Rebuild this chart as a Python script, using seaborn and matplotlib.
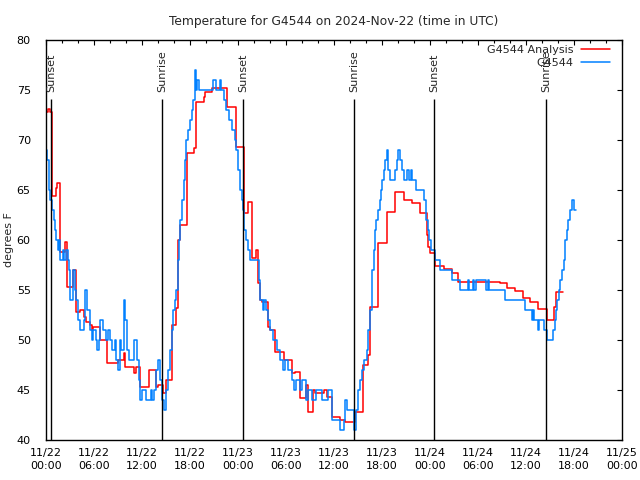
import numpy as np
import pandas as pd
import matplotlib
matplotlib.use('Agg')
import matplotlib.pyplot as plt
import matplotlib.dates as mdates
import seaborn as sns

# ── data (hours after 2024-11-22 00:00 UTC, deg F) ──────────
analysis_hours = [0.0, 0.25, 0.5, 0.7, 1.25, 1.4, 1.75, 2.4, 2.6, 3.4, 3.75, 4.25, 4.7, 5.0,
                  5.5, 5.7, 5.9, 6.75, 7.6, 9.0, 9.7, 9.9, 11.0, 11.3, 11.75, 12.9, 13.7, 14.0,
                  14.6, 15.0, 15.7, 16.25, 16.5, 16.75, 17.6, 18.5, 18.8, 19.7, 19.9, 20.7,
                  22.6, 23.8, 24.7, 25.3, 25.7, 26.25, 26.5, 26.75, 27.0, 27.7, 28.0, 28.6,
                  29.7, 30.7, 31.1, 31.75, 32.5, 32.8, 33.4, 33.6, 34.7, 35.1, 35.7, 36.75,
                  37.4, 38.6, 39.6, 40.3, 40.5, 41.5, 42.6, 43.6, 44.7, 45.7, 46.7, 47.6,
                  47.8, 48.0, 48.6, 49.7, 50.7, 51.5, 56.75, 57.6, 58.6, 59.6, 60.5, 61.5,
                  62.6, 63.5, 63.7, 64.6]
analysis_temps = [72.8, 73.1, 72.8, 64.4, 65.2, 65.7, 58.8, 59.8, 55.3, 57.0, 52.8, 53.0, 52.3, 51.8,
                  51.5, 51.0, 51.3, 50.0, 47.7, 48.0, 48.7, 47.3, 46.7, 47.3, 45.3, 47.0, 45.3, 45.5,
                  44.7, 46.0, 51.5, 53.2, 60.0, 61.5, 68.7, 69.2, 73.8, 74.3, 74.8, 75.2,
                  73.3, 69.3, 62.7, 63.8, 58.2, 59.0, 55.7, 54.0, 53.8, 51.3, 51.0, 48.8,
                  48.0, 46.7, 46.8, 44.2, 45.5, 42.8, 45.0, 44.7, 45.0, 44.3, 42.3, 42.0,
                  41.8, 42.8, 47.5, 48.5, 53.3, 59.7, 62.8, 64.8, 64.0, 63.7, 62.7, 60.5,
                  59.3, 58.7, 57.4, 57.1, 56.7, 55.8, 55.7, 55.2, 54.9, 54.2, 53.8, 53.1,
                  52.0, 53.3, 54.8, 54.8]

obs_hours = [0.0, 0.15, 0.35, 0.5, 0.8, 1.0, 1.15, 1.3, 1.45, 1.6, 1.8, 2.1, 2.3, 2.5, 2.7, 2.9,
             3.05, 3.4, 3.6, 3.8, 4.0, 4.3, 4.7, 4.85, 5.1, 5.5, 5.7, 5.9, 6.2, 6.4, 6.6, 6.8,
             7.1, 7.5, 7.8, 8.0, 8.3, 8.6, 8.8, 9.0, 9.2, 9.4, 9.7, 9.9, 10.1, 10.4, 11.0, 11.4,
             11.6, 11.8, 12.0, 12.5, 13.1, 13.3, 13.5, 13.8, 14.0, 14.2, 14.5, 14.7, 15.0, 15.3,
             15.5, 15.7, 15.9, 16.1, 16.3, 16.45, 16.6, 16.8, 17.0, 17.2, 17.4, 17.55, 17.8, 18.0,
             18.2, 18.4, 18.6, 18.8, 18.9, 19.1, 20.9, 21.3, 21.7, 21.9, 22.2, 22.5, 22.9, 23.3,
             23.6, 23.8, 24.0, 24.2, 24.45, 24.6, 24.75, 25.0, 25.2, 25.5, 26.6, 26.7, 27.1, 27.3,
             27.5, 27.7, 28.0, 28.4, 28.9, 29.2, 29.6, 29.9, 30.3, 30.7, 31.0, 31.3, 31.8, 32.0,
             32.5, 32.8, 33.2, 33.8, 34.5, 35.2, 35.7, 36.7, 37.2, 37.4, 37.6, 38.5, 38.8, 39.0,
             39.2, 39.5, 39.8, 40.1, 40.3, 40.5, 40.7, 40.8, 41.0, 41.1, 41.3, 41.5, 41.75, 41.9,
             42.0, 42.2, 42.4, 42.6, 42.75, 43.0, 43.6, 43.9, 44.05, 44.2, 44.5, 44.8, 45.1, 45.4,
             45.6, 45.8, 46.2, 47.2, 47.5, 47.7, 47.9, 48.1, 48.6, 49.25, 50.7, 51.75, 52.8, 52.9,
             53.4, 53.5, 53.8, 55.0, 55.3, 55.4, 57.4, 59.9, 60.7, 60.9, 61.0, 61.5, 61.6, 62.2,
             62.6, 63.4, 63.6, 63.75, 63.9, 64.1, 64.25, 64.5, 64.7, 64.9, 65.1, 65.3, 65.5, 65.7,
             66.0, 66.2]
obs_temps = [69, 68, 65, 64, 63, 62, 61, 60, 59, 60, 58, 59, 58, 59, 58, 57,
             54, 57, 55, 54, 52, 51, 52, 55, 53, 51, 50, 51, 50, 49, 50, 52,
             51, 50, 51, 50, 49, 50, 48, 47, 50, 49, 54, 52, 49, 48, 50, 48,
             46, 44, 45, 44, 45, 44, 45, 47, 48, 46, 44, 43, 45, 47,
             49, 51, 53, 54, 55, 58, 60, 62, 64, 66, 68, 70, 71, 72,
             73, 74, 77, 75, 76, 75, 76, 75, 76, 75, 74, 73, 72, 71,
             70, 69, 67, 65, 64, 63, 61, 60, 59, 58, 56, 54, 53, 54,
             53, 52, 51, 50, 49, 48, 47, 48, 47, 46, 45, 46, 45, 46,
             44, 45, 44, 45, 44, 45, 42, 41, 42, 44, 43, 41, 43, 45,
             46, 47, 48, 49, 51, 53, 55, 57, 59, 61, 62, 63, 64, 65,
             66, 67, 68, 69, 67, 66, 67, 68, 69, 68, 67, 66, 67, 66,
             67, 66, 65, 64, 62, 61, 60, 59, 58, 57, 56, 55, 56, 55,
             56, 55, 56, 55, 56, 55, 54, 53, 52, 53, 52, 51, 52, 51,
             50, 51, 52, 53, 54, 55, 56, 57, 58, 60, 61, 62, 63, 64,
             63, 63]

sun_hours = [0.6, 14.5, 24.6, 38.5, 48.5, 62.5]
sun_labels = ['Sunset', 'Sunrise', 'Sunset', 'Sunrise', 'Sunset', 'Sunrise']

start = pd.Timestamp('2024-11-22 00:00')
df_an = pd.DataFrame({'time': start + pd.to_timedelta(analysis_hours, unit='h'),
                      'temp': analysis_temps})
df_obs = pd.DataFrame({'time': start + pd.to_timedelta(obs_hours, unit='h'),
                       'temp': obs_temps})
sun_times = start + pd.to_timedelta(sun_hours, unit='h')

# ── plot ─────────────────────────────────────────────────────
sns.set_theme(style='white')
plt.rcParams['font.family'] = ['DejaVu Sans']
plt.rcParams['font.size'] = 8

fig = plt.figure(figsize=(6.4, 4.8), dpi=100)
ax = fig.add_axes([46 / 640, 40 / 480, 576 / 640, 400 / 480])

sns.lineplot(data=df_an, x='time', y='temp', ax=ax, color='#ff0000', lw=1.1,
             drawstyle='steps-post', estimator=None, label='G4544 Analysis')
sns.lineplot(data=df_obs, x='time', y='temp', ax=ax, color='#0080ff', lw=1.1,
             drawstyle='steps-post', estimator=None, label='G4544')

ax.vlines(sun_times, 40, 74.1, color='black', lw=1)
for t, lab in zip(sun_times, sun_labels):
    ax.text(t, 74.8, lab, rotation=90, ha='center', va='bottom', fontsize=8)

ax.set_xlim(start, start + pd.Timedelta(hours=72))
ax.set_ylim(40, 80)
ax.yaxis.set_major_locator(plt.MultipleLocator(5))
ax.xaxis.set_major_locator(mdates.HourLocator(byhour=[0, 6, 12, 18]))
ax.xaxis.set_minor_locator(mdates.HourLocator(byhour=range(0, 24, 2)))
ax.xaxis.set_major_formatter(mdates.DateFormatter('%m/%d\n%H:%M'))

ax.tick_params(which='both', direction='in', top=True, right=True, colors='black',
               labelsize=8, width=0.8)
ax.tick_params(which='major', length=3.6)
ax.tick_params(which='minor', length=2)
ax.tick_params(axis='y', pad=11)
ax.tick_params(axis='x', pad=6)
for lbl in ax.get_xticklabels():
    lbl.set_linespacing(1.35)
for sp in ax.spines.values():
    sp.set_color('black')
    sp.set_linewidth(1)

ax.set_xlabel('')
ax.set_ylabel('degrees F', fontsize=8)
ax.yaxis.set_label_coords(-32 / 576, 0.5)
ax.set_title('Temperature for G4544 on 2024-Nov-22 (time in UTC)', fontsize=8.8, pad=11)

ax.legend(loc='upper right', frameon=False, markerfirst=False, fontsize=8,
          handlelength=2.6, handletextpad=0.7, labelspacing=0.25,
          borderaxespad=0, borderpad=0, bbox_to_anchor=(1 - 12 / 576, 1 - 5 / 400))

fig.savefig('out.png', dpi=100)
